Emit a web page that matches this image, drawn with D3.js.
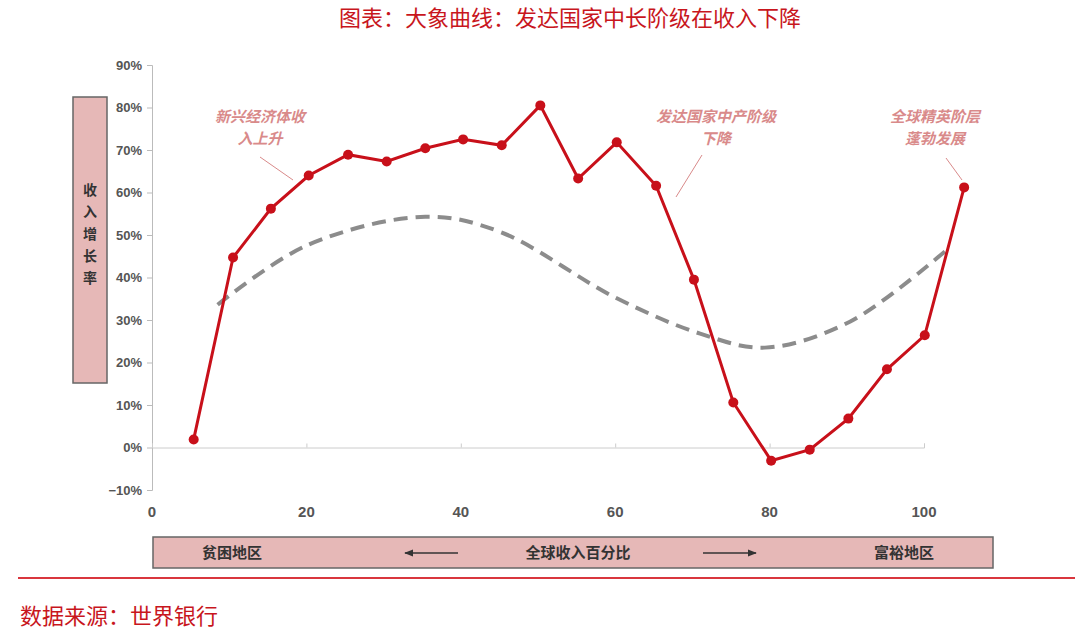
<!DOCTYPE html>
<html><head><meta charset="utf-8">
<script src="https://cdn.jsdelivr.net/npm/d3@7"></script>
<style>body{margin:0;background:#fff}</style>
</head><body>
<svg id="chart" width="1080" height="639"></svg>
<script>
// percentiles and income growth (%)
var pctX = [5.4, 10.5, 15.4, 20.3, 25.4, 30.4, 35.4, 40.3, 45.3, 50.3, 55.2, 60.2, 65.3, 70.2, 75.3, 80.2, 85.2, 90.2, 95.2, 100.1, 105.2];
var growth = [1.9, 44.7, 56.2, 64, 68.9, 67.3, 70.4, 72.5, 71.1, 80.5, 63.3, 71.8, 61.6, 39.5, 10.6, -3.1, -0.5, 6.8, 18.4, 26.4, 61.2];
// dashed trend line
var trendX = [8.5, 20, 35.4, 45, 60, 71, 79.4, 90.4, 103];
var trendY = [33.6, 47.5, 54.3, 50.8, 35.3, 26.8, 23.5, 29.6, 46.6];
var xTicks = [0, 20, 40, 60, 80, 100];
var yTicks = [-10, 0, 10, 20, 30, 40, 50, 60, 70, 80, 90];

var svg = d3.select("#chart");
var cjk = "'Noto Sans CJK SC', sans-serif";
var x = d3.scaleLinear().domain([0, 100]).range([152, 924]);
var y = d3.scaleLinear().domain([-10, 90]).range([490, 65]);

// title
svg.append("text").attr("x", 570).attr("y", 26).attr("text-anchor", "middle")
  .attr("font-family", cjk).attr("font-size", 22).attr("fill", "#c8161d")
  .text("图表：大象曲线：发达国家中长阶级在收入下降");

// y axis
var ya = svg.append("g").attr("transform", "translate(152,0)")
  .call(d3.axisLeft(y).tickValues(yTicks).tickSize(5).tickFormat(function(d){ return (d < 0 ? "−" : "") + Math.abs(d) + "%"; }));
ya.select(".domain").attr("stroke", "#bbb");
ya.selectAll(".tick line").attr("stroke", "#bbb");
ya.selectAll("text").attr("font-family", "Arial, sans-serif").attr("font-weight", "bold")
  .attr("font-size", 13).attr("fill", "#555").attr("dx", -2);

// x axis on 0%
var xa = svg.append("g").attr("transform", "translate(0," + y(0) + ")")
  .call(d3.axisTop(x).tickValues(xTicks).tickSize(4).tickFormat(""));
xa.select(".domain").attr("stroke", "#ccc");
xa.selectAll(".tick line").attr("stroke", "#ccc");
svg.selectAll(".xl").data(xTicks).enter().append("text")
  .attr("x", function(d){ return x(d); }).attr("y", 517).attr("text-anchor", "middle")
  .attr("font-family", "Arial, sans-serif").attr("font-weight", "bold").attr("font-size", 15)
  .attr("fill", "#555").text(function(d){ return d; });

// y label box
svg.append("rect").attr("x", 73).attr("y", 97).attr("width", 34).attr("height", 286)
  .attr("fill", "#e6b8b7").attr("stroke", "#666").attr("stroke-width", 1.5);
"收入增长率".split("").forEach(function(c, i){
  svg.append("text").attr("x", 90).attr("y", 195 + i * 22).attr("text-anchor", "middle")
    .attr("font-family", cjk).attr("font-weight", "bold").attr("font-size", 14).attr("fill", "#333").text(c);
});

// bottom box
svg.append("rect").attr("x", 153).attr("y", 537).attr("width", 840).attr("height", 31)
  .attr("fill", "#e6b8b7").attr("stroke", "#666").attr("stroke-width", 1.5);
[["贫困地区", 232], ["全球收入百分比", 578], ["富裕地区", 904]].forEach(function(t){
  svg.append("text").attr("x", t[1]).attr("y", 558).attr("text-anchor", "middle")
    .attr("font-family", cjk).attr("font-weight", "bold").attr("font-size", 15).attr("fill", "#333").text(t[0]);
});
var defs = svg.append("defs");
defs.append("marker").attr("id", "ah").attr("viewBox", "0 0 10 10").attr("refX", 9).attr("refY", 5)
  .attr("markerWidth", 6).attr("markerHeight", 6).attr("orient", "auto-start-reverse")
  .append("path").attr("d", "M0,1 L10,5 L0,9 z").attr("fill", "#333");
svg.append("line").attr("x1", 458).attr("x2", 405).attr("y1", 553).attr("y2", 553)
  .attr("stroke", "#333").attr("stroke-width", 1.5).attr("marker-end", "url(#ah)");
svg.append("line").attr("x1", 703).attr("x2", 756).attr("y1", 553).attr("y2", 553)
  .attr("stroke", "#333").attr("stroke-width", 1.5).attr("marker-end", "url(#ah)");

// trend line
svg.append("path").datum(d3.zip(trendX, trendY))
  .attr("d", d3.line().x(function(d){ return x(d[0]); }).y(function(d){ return y(d[1]); }).curve(d3.curveCatmullRom))
  .attr("fill", "none").attr("stroke", "#8c8c8c").attr("stroke-width", 4).attr("stroke-dasharray", "14,8");

// main series
var pts = d3.zip(pctX, growth);
svg.append("path").datum(pts)
  .attr("d", d3.line().x(function(d){ return x(d[0]); }).y(function(d){ return y(d[1]); }))
  .attr("fill", "none").attr("stroke", "#c8101a").attr("stroke-width", 3);
svg.selectAll(".pt").data(pts).enter().append("circle")
  .attr("cx", function(d){ return x(d[0]); }).attr("cy", function(d){ return y(d[1]); })
  .attr("r", 5).attr("fill", "#c8101a");

// annotations
var noteC = "#d98a8a";
function note(lines, cx, cy, lx1, ly1, lx2, ly2){
  lines.forEach(function(l, i){
    svg.append("text").attr("x", cx).attr("y", cy + i * 22).attr("text-anchor", "middle")
      .attr("font-family", cjk).attr("font-style", "italic").attr("font-weight", "bold")
      .attr("font-size", 15).attr("fill", noteC).text(l);
  });
  svg.append("line").attr("x1", lx1).attr("y1", ly1).attr("x2", lx2).attr("y2", ly2)
    .attr("stroke", noteC).attr("stroke-width", 1);
}
note(["新兴经济体收", "入上升"], 260, 122, 260, 157, 293, 180);
note(["发达国家中产阶级", "下降"], 716, 122, 702, 155, 676, 197);
note(["全球精英阶层", "蓬勃发展"], 935, 122, 946, 158, 962, 180);

// separator and source
svg.append("line").attr("x1", 18).attr("x2", 1075).attr("y1", 578).attr("y2", 578)
  .attr("stroke", "#d9363e").attr("stroke-width", 2);
svg.append("text").attr("x", 20).attr("y", 624).attr("font-family", cjk)
  .attr("font-size", 22).attr("fill", "#c8161d").text("数据来源：世界银行");
</script>
</body></html>
